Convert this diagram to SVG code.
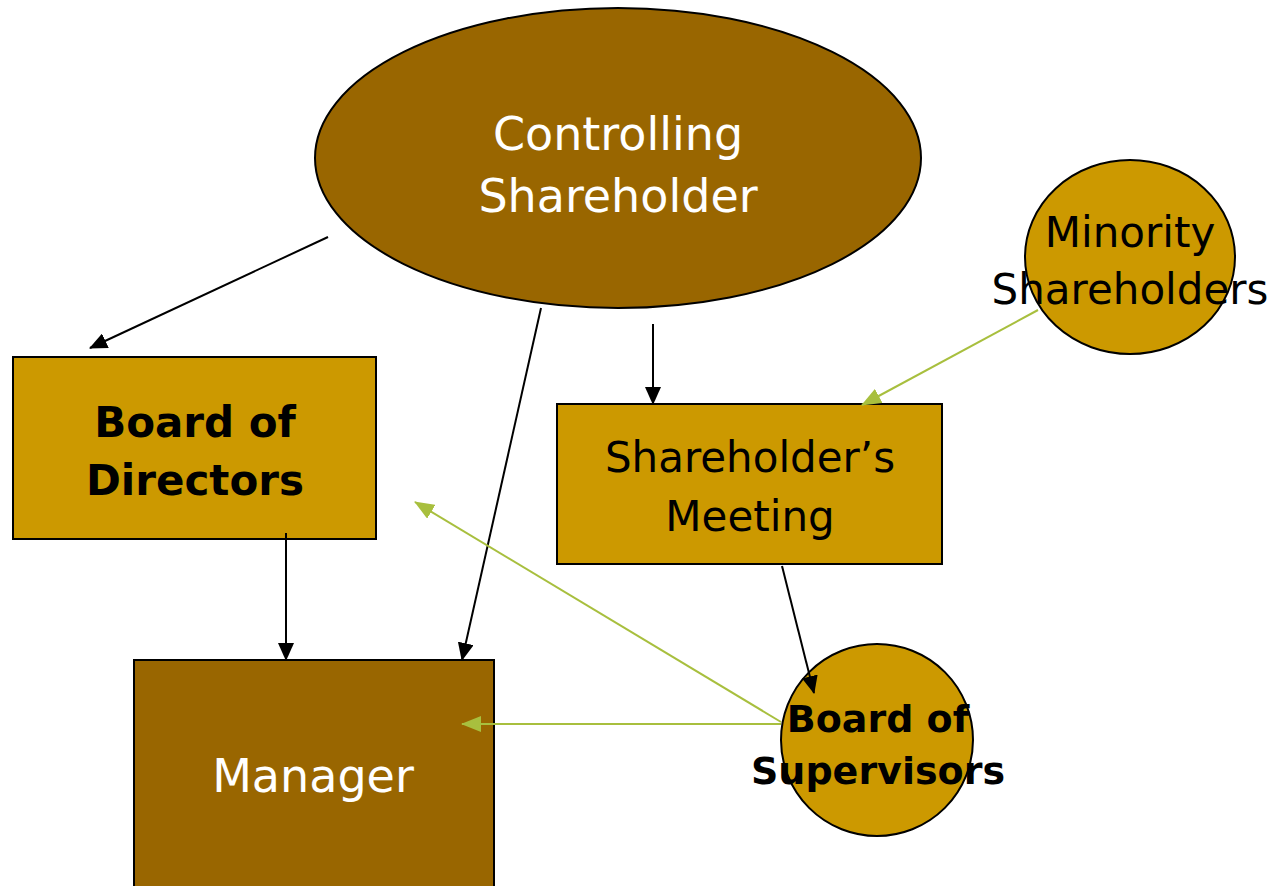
<svg xmlns="http://www.w3.org/2000/svg" width="1273" height="886" viewBox="0 0 1273 886">
<defs>
<style>
.dark{fill:#996600;stroke:#000;stroke-width:2}
.gold{fill:#CC9900;stroke:#000;stroke-width:2}
.t{font-family:"DejaVu Sans","Liberation Sans",sans-serif;text-anchor:middle}
.w{fill:#fff;font-size:46px}
.k{fill:#000;font-size:42px}
.b{fill:#000;font-size:42px;font-weight:bold}
.bs{fill:#000;font-size:38px;font-weight:bold}
.blk{stroke:#000;stroke-width:2;fill:none;marker-end:url(#ab)}
.grn{stroke:#A8BF3E;stroke-width:2;fill:none;marker-end:url(#ag)}
</style>
<marker id="ab" viewBox="0 0 18 16" refX="17" refY="8" markerWidth="18" markerHeight="16" markerUnits="userSpaceOnUse" orient="auto"><path d="M0,0 L18,8 L0,16 Z" fill="#000"/></marker>
<marker id="ag" viewBox="0 0 20 16" refX="19" refY="8" markerWidth="20" markerHeight="16" markerUnits="userSpaceOnUse" orient="auto"><path d="M0,0 L20,8 L0,16 Z" fill="#A8BF3E"/></marker>
</defs>
<rect width="1273" height="886" fill="#fff"/>
<g id="controlling">
<ellipse class="dark" cx="618" cy="158" rx="303" ry="150"/>
<text class="t w" x="618" y="150">Controlling</text>
<text class="t w" x="618" y="212">Shareholder</text>
</g>
<g id="minority">
<ellipse class="gold" cx="1130" cy="257" rx="105" ry="97"/>
<text class="t k" x="1130" y="247">Minority</text>
<text class="t k" x="1130" y="304">Shareholders</text>
</g>
<g id="directors">
<rect class="gold" x="13" y="357" width="363" height="182"/>
<text class="t b" x="195" y="437">Board of</text>
<text class="t b" x="195" y="495">Directors</text>
</g>
<g id="meeting">
<rect class="gold" x="557" y="404" width="385" height="160"/>
<text class="t k" x="750" y="472">Shareholder’s</text>
<text class="t k" x="750" y="531">Meeting</text>
</g>
<g id="manager">
<rect class="dark" x="134" y="660" width="360" height="240"/>
<text class="t w" x="313" y="792">Manager</text>
</g>
<g id="supervisors">
<circle class="gold" cx="877" cy="740" r="96"/>
<text class="t bs" x="878" y="732">Board of</text>
<text class="t bs" x="878" y="784">Supervisors</text>
</g>
<g id="connectors">
<line class="blk" x1="328" y1="237" x2="90" y2="348"/>
<line class="blk" x1="541" y1="308" x2="462" y2="660"/>
<line class="blk" x1="653" y1="324" x2="653" y2="404"/>
<line class="blk" x1="286" y1="533" x2="286" y2="660"/>
<line class="blk" x1="782" y1="566" x2="814" y2="693"/>
<line class="grn" x1="1038" y1="310" x2="862" y2="405"/>
<line class="grn" x1="781" y1="722" x2="415" y2="502"/>
<line class="grn" x1="781" y1="724" x2="462" y2="724"/>
</g>
</svg>
